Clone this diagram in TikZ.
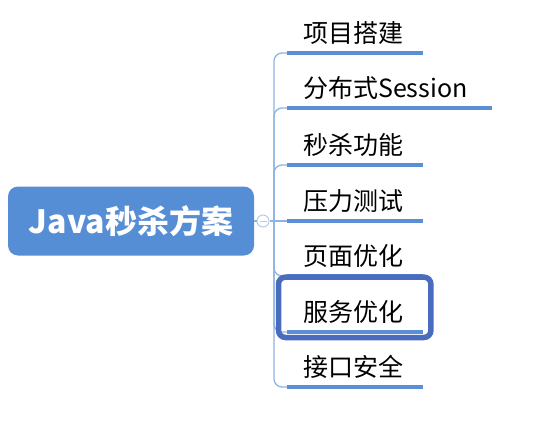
\documentclass[tikz,border=0pt]{standalone}
\usepackage{fontspec}
\setmainfont{Noto Sans CJK SC}
\definecolor{rootblue}{HTML}{558ED5}
\definecolor{ulblue}{HTML}{5A8ED6}
\definecolor{connblue}{HTML}{8DB3E2}
\definecolor{selblue}{HTML}{4A6CBF}
\definecolor{circblue}{HTML}{B8CCEA}
\tikzset{
  root/.style={fill=rootblue, text=white, rounded corners=10pt, minimum width=246pt, minimum height=69pt, inner sep=0pt, font=\fontsize{32}{36}\selectfont\bfseries},
  topic/.style={anchor=south west, minimum height=40pt, inner ysep=0pt, inner xsep=16pt, align=left, font=\fontsize{25}{29}\selectfont, text=black},
  uline/.style={draw=ulblue, line width=4pt},
  conn/.style={draw=connblue, line width=1.3pt, rounded corners=8pt},
  collapse/.style={circle, draw=circblue, fill=white, line width=1pt, minimum size=12pt, inner sep=0pt},
  selbox/.style={draw=selblue, line width=5.5pt, rounded corners=7pt}
}
\begin{document}
\begin{tikzpicture}[x=1pt,y=-1pt]
\useasboundingbox (0,0) rectangle (548,428);
\node[root] (root) at (131,221) {Java秒杀方案};
\node[collapse] (circ) at (263,221) {};
\coordinate (hub) at (274,221);
\node[topic, text width=104pt] (t1) at (287,53) {项目搭建};
\node[topic, text width=173pt] (t2) at (287,108) {分布式Session};
\node[topic, text width=104pt] (t3) at (287,165) {秒杀功能};
\node[topic, text width=104pt] (t4) at (287,221) {压力测试};
\node[topic, text width=104pt] (t5) at (287,276) {页面优化};
\node[topic, text width=104pt] (t6) at (287,332) {服务优化};
\node[topic, text width=104pt] (t7) at (287,387) {接口安全};
\draw[conn] (root.east) -- (circ.west);
\draw[conn] (circ.east) -- (hub);
\foreach \t in {t1,t2,t3,t5,t6,t7}{
  \draw[conn] (hub) |- (\t.south west);
}
\draw[conn] (hub) -- (t4.south west);
\foreach \t in {t1,t2,t3,t4,t5,t6,t7}{
  \draw[uline] (\t.south west) -- (\t.south east);
}
\draw[circblue, line width=1pt] ([xshift=-3.5pt]circ.center) -- ([xshift=3.5pt]circ.center);
\draw[selbox] ([shift={(-8.5,-14.5)}]t6.north west) rectangle ([shift={(7.5,5.5)}]t6.south east);
\end{tikzpicture}
\end{document}
